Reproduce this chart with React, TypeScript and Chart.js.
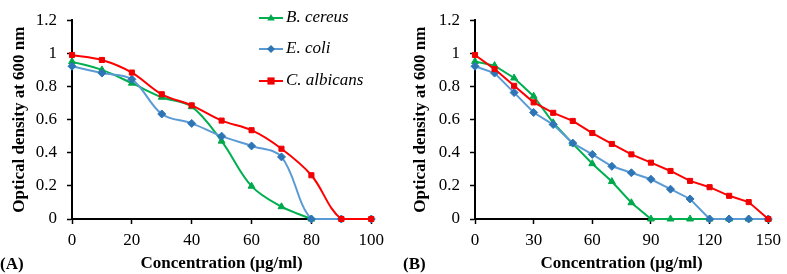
import React, { useEffect, useRef } from "react";
import { Chart, registerables } from "chart.js";

Chart.register(...registerables);

// ---- Data ----
const seriesNames = ["B. cereus", "E. coli", "C. albicans"];

// Panel A concentrations (µg/ml)
const concA = [0, 10, 20, 30, 40, 50, 60, 70, 80, 90, 100];
const bCereusA = [0.95, 0.9, 0.82, 0.735, 0.678, 0.47, 0.198, 0.074, 0];
const eColiA = [0.922, 0.881, 0.843, 0.634, 0.577, 0.5, 0.441, 0.375, 0, 0, 0];
const cAlbicansA = [0.99, 0.96, 0.884, 0.753, 0.686, 0.594, 0.536, 0.424, 0.264, 0, 0];

// Panel B concentrations (µg/ml)
const concB = [0, 10, 20, 30, 40, 50, 60, 70, 80, 90, 100, 110, 120, 130, 140, 150];
const bCereusB = [0.951, 0.926, 0.851, 0.741, 0.581, 0.455, 0.334, 0.226, 0.098, 0, 0, 0, 0, 0, 0, 0];
const eColiB = [0.922, 0.881, 0.763, 0.643, 0.57, 0.458, 0.39, 0.318, 0.279, 0.24, 0.18, 0.121, 0, 0, 0, 0];
const cAlbicansB = [0.99, 0.905, 0.804, 0.704, 0.641, 0.592, 0.519, 0.453, 0.39, 0.34, 0.29, 0.23, 0.192, 0.14, 0.102, 0];

const yTicks = [0, 0.2, 0.4, 0.6, 0.8, 1, 1.2];
const xTitle = "Concentration (μg/ml)";
const yTitle = "Optical density at 600 nm";

// ---- Styles ----
const FONT = "'Liberation Serif', 'Times New Roman', serif";
const lineColors = ["#00B050", "#5B9BD5", "#FF0000"];
const markerColors = ["#00A84C", "#2E75B6", "#F00000"];
const pointStyles = ["triangle", "rectRot", "rect"];
const pointRadii = [4, 4, 3.6];
const drawOrder = [2, 1, 0];

function toPoints(xs: number[], ys: number[]) {
  return ys.map((y, i) => ({ x: xs[i], y }));
}

const legendPlugin = {
  id: "insideLegend",
  afterDraw(chart: any, _args: any, opts: any) {
    if (!opts || !opts.show) return;
    const ctx = chart.ctx;
    const ds = chart.data.datasets;
    const rowY = [18, 49, 81];
    ctx.save();
    ds.forEach((d: any, i: number) => {
      const y = rowY[i];
      const x0 = 259;
      const x1 = 283;
      ctx.strokeStyle = d.borderColor;
      ctx.lineWidth = 2;
      ctx.beginPath();
      ctx.moveTo(x0, y);
      ctx.lineTo(x1, y);
      ctx.stroke();
      const cx = (x0 + x1) / 2;
      const r = d.pointRadius;
      ctx.fillStyle = d.pointBackgroundColor;
      ctx.beginPath();
      if (d.pointStyle === "triangle") {
        ctx.moveTo(cx, y - r);
        ctx.lineTo(cx + r * 0.95, y + r * 0.6);
        ctx.lineTo(cx - r * 0.95, y + r * 0.6);
      } else if (d.pointStyle === "rectRot") {
        ctx.moveTo(cx, y - r);
        ctx.lineTo(cx + r, y);
        ctx.lineTo(cx, y + r);
        ctx.lineTo(cx - r, y);
      } else {
        ctx.rect(cx - r, y - r, 2 * r, 2 * r);
      }
      ctx.closePath();
      ctx.fill();
      ctx.fillStyle = "#000";
      ctx.font = `italic 17px ${FONT}`;
      ctx.textBaseline = "middle";
      ctx.textAlign = "left";
      ctx.fillText(d.label, 286, y);
    });
    ctx.restore();
  },
};

function makeConfig(
  xs: number[],
  series: number[][],
  xMax: number,
  xStep: number,
  yAxisWidth: number,
  yTitlePad: number,
  tension: number,
  showLegend: boolean
): any {
  return {
    type: "line",
    data: {
      datasets: series.map((ys, i) => ({
        label: seriesNames[i],
        data: toPoints(xs, ys),
        borderColor: lineColors[i],
        backgroundColor: markerColors[i],
        pointBackgroundColor: markerColors[i],
        pointBorderColor: markerColors[i],
        pointBorderWidth: 1,
        pointStyle: pointStyles[i],
        pointRadius: pointRadii[i],
        borderWidth: 2,
        tension,
        cubicInterpolationMode: "default",
        clip: false,
        order: drawOrder[i],
        fill: false,
      })),
    },
    options: {
      responsive: false,
      animation: false,
      events: [],
      layout: { autoPadding: false, padding: { top: 5, right: 13, left: 0, bottom: 0 } },
      plugins: {
        legend: { display: false },
        tooltip: { enabled: false },
        insideLegend: { show: showLegend },
      },
      scales: {
        x: {
          type: "linear",
          min: 0,
          max: xMax,
          border: { color: "#000", width: 2 },
          grid: { drawOnChartArea: false, drawTicks: true, tickLength: 5, tickWidth: 1.5, tickColor: "#000" },
          ticks: {
            stepSize: xStep,
            color: "#000",
            padding: 6,
            font: { family: FONT, size: 17 },
            maxRotation: 0,
          },
          title: {
            display: true,
            text: xTitle,
            color: "#000",
            font: { family: FONT, size: 17, weight: "bold" },
            padding: { top: 0, bottom: 0 },
          },
          afterFit(scale: any) {
            scale.height = 55;
          },
        },
        y: {
          min: 0,
          max: 1.2,
          border: { color: "#000", width: 2 },
          grid: { drawOnChartArea: false, drawTicks: true, tickLength: 5, tickWidth: 1.5, tickColor: "#000" },
          afterBuildTicks(scale: any) {
            scale.ticks = yTicks.map((v) => ({ value: v }));
          },
          ticks: {
            color: "#000",
            padding: 10,
            font: { family: FONT, size: 17 },
            callback: (v: any) => String(Math.round(Number(v) * 10) / 10),
          },
          title: {
            display: true,
            text: yTitle,
            color: "#000",
            font: { family: FONT, size: 17, weight: "bold" },
            padding: { top: yTitlePad, bottom: 0 },
          },
          afterFit(scale: any) {
            scale.width = yAxisWidth;
          },
        },
      },
    },
    plugins: [legendPlugin],
  };
}

function Panel(props: { config: any; width: number; left: number }) {
  const ref = useRef<HTMLCanvasElement | null>(null);
  useEffect(() => {
    if (!ref.current) return;
    const chart = new Chart(ref.current, props.config);
    return () => chart.destroy();
  }, []);
  return (
    <canvas
      ref={ref}
      width={props.width}
      height={274}
      style={{ position: "absolute", left: props.left, top: 0, width: props.width, height: 274 }}
    />
  );
}

const labelStyle: React.CSSProperties = {
  position: "absolute",
  top: 254,
  fontFamily: FONT,
  fontWeight: "bold",
  fontSize: 17,
  lineHeight: "20px",
  color: "#000",
  whiteSpace: "nowrap",
};

export default function App() {
  const cfgA = makeConfig(concA, [bCereusA, eColiA, cAlbicansA], 100, 20, 72, 9, 0.35, true);
  const cfgB = makeConfig(concB, [bCereusB, eColiB, cAlbicansB], 150, 30, 85, 20, 0, false);
  return (
    <div style={{ position: "fixed", left: 0, top: 0, width: 787, height: 274, background: "#fff", overflow: "hidden" }}>
      <Panel config={cfgA} width={390} left={0} />
      <Panel config={cfgB} width={397} left={390} />
      <div style={{ ...labelStyle, left: 0 }}>(A)</div>
      <div style={{ ...labelStyle, left: 403 }}>(B)</div>
    </div>
  );
}
